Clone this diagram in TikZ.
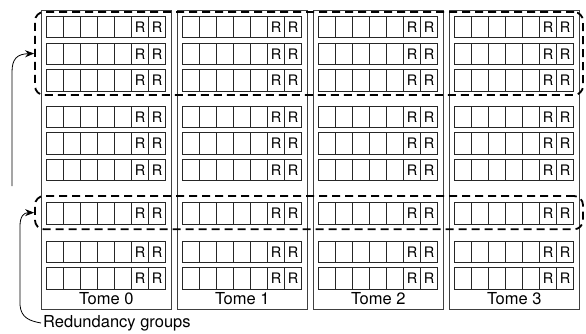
\documentclass[tikz,border=0pt]{standalone}
\usepackage{fontspec}
\setmainfont{TeX Gyre Heros}
\usetikzlibrary{arrows.meta}
\tikzset{
  tome/.style={draw=black!75, line width=0.9pt, fill=white, inner sep=0pt, minimum width=129.5pt, minimum height=298.3pt},
  cell/.style={draw=black!85, line width=0.8pt, fill=white, inner sep=0pt, minimum width=17pt, minimum height=21.5pt, font=\fontsize{14.5}{15}\selectfont},
  grp/.style={draw=black, line width=1.8pt, dash pattern=on 8pt off 5pt, rounded corners=9pt, inner sep=0pt, minimum width=548pt},
  lbl/.style={inner sep=0pt, font=\fontsize{16.5}{17}\selectfont},
  arr/.style={draw=black, line width=0.8pt, -{Stealth[length=9pt,width=7pt]}}
}
\begin{document}
\begin{tikzpicture}[x=1pt,y=-1pt]
\useasboundingbox (0,0) rectangle (586,334);
% tomes
\foreach \k in {0,1,2,3}{
  \node[tome] (t\k) at ({106.25+136*\k},159.85) {};
}
% cells
\foreach \k in {0,1,2,3}{
  \foreach \r/\yt in {1/16,2/43,3/69.5,4/106,5/132.5,6/159,7/202.5,8/241,9/267.5}{
    \foreach \j in {0,...,6}{
      \ifnum\j>4
        \node[cell] (c\k-\r-\j) at ({41.5+136*\k+5.2+17*\j+8.5},{\yt+10.75}) {R};
      \else
        \node[cell] (c\k-\r-\j) at ({41.5+136*\k+5.2+17*\j+8.5},{\yt+10.75}) {};
      \fi
    }
  }
  \node[lbl] (tl\k) at ({106.25+136*\k},298.5) {Tome \k};
}
% redundancy groups
\node[grp, minimum height=83pt] (g1) at (309,53.5) {};
\node[grp, minimum height=33.3pt] (g3) at (309,212.65) {};
% label and arrows
\node[lbl, anchor=west, inner sep=2pt] (rg) at (41,323) {Redundancy groups};
\coordinate (a1) at (12,186);
\draw[arr] (a1) -- (12,72) .. controls (12,59) and (17,54) .. (g1.west);
\draw[arr] (rg.west) .. controls (30,321) and (21,318) .. (20,305) -- (20,226) .. controls (20,216) and (24,212.65) .. (g3.west);
\end{tikzpicture}
\end{document}
